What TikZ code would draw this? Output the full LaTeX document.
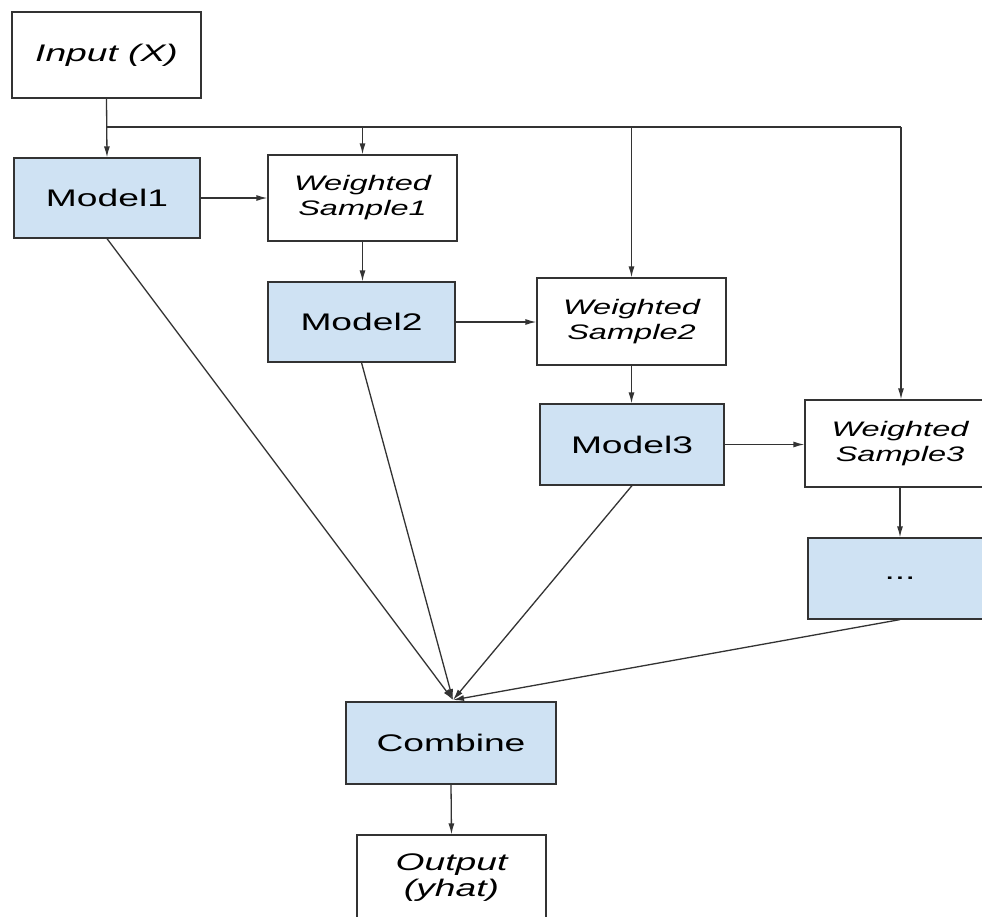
\documentclass[tikz,border=0pt]{standalone}
\usepackage{fontspec}
\setmainfont[FakeStretch=1.55]{Liberation Sans}
\usetikzlibrary{arrows.meta}
\definecolor{boxfill}{HTML}{CFE2F3}
\definecolor{edge}{HTML}{333333}
\begin{document}
\begin{tikzpicture}[x=1pt,y=-1pt,
  box/.style={draw=edge,line width=1.2pt,rectangle,inner sep=0pt,align=center},
  plain/.style={box,fill=white},
  model/.style={box,fill=boxfill,font=\fontsize{24}{28}\selectfont},
  sample/.style={plain,font=\fontsize{21}{25}\selectfont\itshape,minimum width=189pt,minimum height=86pt},
  link/.style={draw=edge,line width=1.3pt,-{Latex[length=11pt,width=6pt]}},
  wire/.style={draw=edge,line width=1.3pt}]
\clip (0,0) rectangle (982,916);
\fill[white] (0,0) rectangle (982,916);

% boxes
\node[plain,font=\fontsize{24}{28}\selectfont\itshape,minimum width=189pt,minimum height=86pt] (in) at (106.5,55) {Input (X)};
\node[model,minimum width=186pt,minimum height=80pt] (m1) at (107,198) {Model1};
\node[sample] (ws1) at (362.5,198) {Weighted\\Sample1};
\node[model,minimum width=187pt,minimum height=80pt] (m2) at (361.5,322) {Model2};
\node[sample,minimum height=87pt] (ws2) at (631.5,321.5) {Weighted\\Sample2};
\node[model,minimum width=184pt,minimum height=81pt] (m3) at (632,444.5) {Model3};
\node[sample,minimum width=190pt,minimum height=87pt] (ws3) at (900,443.5) {Weighted\\Sample3};
\node[model,minimum width=184pt,minimum height=81pt] (dots) at (900,578.5) {...};
\node[model,minimum width=210pt,minimum height=82pt] (comb) at (451,743) {Combine};
\node[plain,font=\fontsize{24}{26}\selectfont\itshape,minimum width=189pt,minimum height=86pt] (out) at (451.5,878) {Output\\(yhat)};

% input distribution bus
\coordinate (busL) at (106.5,127);
\coordinate (busR) at (901,127);
\draw[link] (in.south) -- (m1.north);
\draw[wire] (busL) -- (busR);
\draw[link] (ws1.north|-busL) -- (ws1.north);
\draw[link] (ws2.north|-busL) -- (ws2.north);
\draw[link] (busR) -- (busR|-ws3.north);

% boosting chain
\draw[link] (m1.east) -- (ws1.west|-m1.east);
\draw[link] (ws1.south) -- (ws1.south|-m2.north);
\draw[link] (m2.east) -- (ws2.west|-m2.east);
\draw[link] (ws2.south) -- (ws2.south|-m3.north);
\draw[link] (m3.east) -- (ws3.west|-m3.east);
\draw[link] (ws3.south) -- (ws3.south|-dots.north);

% all models feed the combiner
\coordinate (join) at (453,700);
\draw[link] (m1.south) -- (join);
\draw[link] (m2.south) -- (join);
\draw[link] (m3.south) -- (join);
\draw[link] (dots.south) -- (join);
\draw[link] (comb.south) -- (out.north);
\end{tikzpicture}
\end{document}
